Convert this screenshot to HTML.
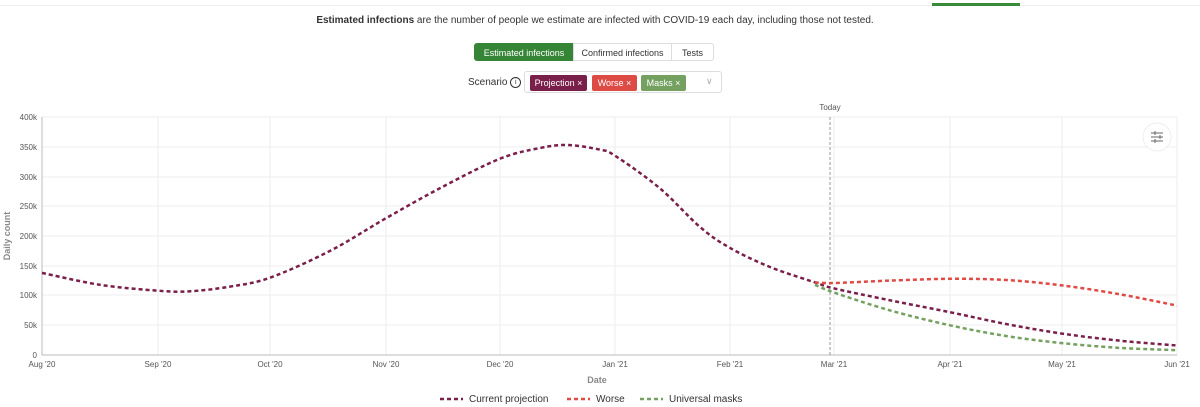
<!DOCTYPE html>
<html><head><meta charset="utf-8"><style>
body{margin:0;background:#fff;font-family:"Liberation Sans",sans-serif;width:1200px;height:407px;overflow:hidden;position:relative}
.a{position:absolute}
.btn{position:absolute;top:43px;height:18px;line-height:18px;font-size:9px;text-align:center;border:1px solid #ddd;box-sizing:border-box;color:#333}
.tag{position:absolute;top:75px;height:16px;line-height:16px;font-size:9px;color:#fff;border-radius:2px;text-align:center}
</style></head><body>
<div class="a" style="left:0;top:5px;width:1200px;height:1px;background:#eee"></div>
<div class="a" style="left:932px;top:3px;width:88px;height:3px;background:#3a8a3a"></div>
<div class="a" style="left:0;width:1190px;top:15px;text-align:center;font-size:10px;color:#333"><b>Estimated infections</b> are the number of people we estimate are infected with COVID-19 each day, including those not tested.</div>
<div class="btn" style="left:474px;width:100px;background:#368536;color:#fff;border-color:#368536;border-radius:3px 0 0 3px">Estimated infections</div>
<div class="btn" style="left:573px;width:99px">Confirmed infections</div>
<div class="btn" style="left:671px;width:43px;border-radius:0 3px 3px 0">Tests</div>
<div class="a" style="left:468px;top:77px;font-size:10px;color:#333">Scenario <span style="display:inline-block;width:9px;height:9px;border:1px solid #333;border-radius:50%;font-size:7px;line-height:9px;text-align:center;vertical-align:1px">i</span></div>
<div class="a" style="left:524px;top:71px;width:198px;height:22px;border:1px solid #ddd;border-radius:3px;box-sizing:border-box"></div>
<div class="tag" style="left:530px;width:57px;background:#7a1f4a">Projection ×</div>
<div class="tag" style="left:592px;width:45px;background:#dd4b45">Worse ×</div>
<div class="tag" style="left:641px;width:45px;background:#74a060">Masks ×</div>
<div class="a" style="left:706px;top:76px;font-size:9px;color:#aaa">∨</div>
<svg class="a" style="left:0;top:0" width="1200" height="407" font-family="Liberation Sans, sans-serif">
<g stroke="#eee" stroke-width="1">
<line x1="42" x2="1177" y1="117" y2="117"/><line x1="42" x2="1177" y1="147" y2="147"/><line x1="42" x2="1177" y1="177" y2="177"/><line x1="42" x2="1177" y1="206" y2="206"/><line x1="42" x2="1177" y1="236" y2="236"/><line x1="42" x2="1177" y1="266" y2="266"/><line x1="42" x2="1177" y1="295" y2="295"/><line x1="42" x2="1177" y1="325" y2="325"/>
<line x1="158" x2="158" y1="117" y2="355"/><line x1="270" x2="270" y1="117" y2="355"/><line x1="386" x2="386" y1="117" y2="355"/><line x1="500" x2="500" y1="117" y2="355"/><line x1="615" x2="615" y1="117" y2="355"/><line x1="730" x2="730" y1="117" y2="355"/><line x1="834" x2="834" y1="117" y2="355"/><line x1="950" x2="950" y1="117" y2="355"/><line x1="1062" x2="1062" y1="117" y2="355"/><line x1="1177" x2="1177" y1="117" y2="355"/>
</g>
<line x1="42" x2="42" y1="117" y2="355" stroke="#bbb"/><line x1="42" x2="1177" y1="355" y2="355" stroke="#bbb"/>
<g font-size="8" fill="#555" text-anchor="end">
<text x="37" y="120">400k</text><text x="37" y="150">350k</text><text x="37" y="180">300k</text><text x="37" y="209">250k</text><text x="37" y="239">200k</text><text x="37" y="269">150k</text><text x="37" y="298">100k</text><text x="37" y="328">50k</text><text x="37" y="358">0</text>
</g>
<g font-size="8" fill="#555" text-anchor="middle">
<text x="42" y="367">Aug '20</text><text x="158" y="367">Sep '20</text><text x="270" y="367">Oct '20</text><text x="386" y="367">Nov '20</text><text x="500" y="367">Dec '20</text><text x="615" y="367">Jan '21</text><text x="730" y="367">Feb '21</text><text x="834" y="367">Mar '21</text><text x="950" y="367">Apr '21</text><text x="1062" y="367">May '21</text><text x="1177" y="367">Jun '21</text>
<text x="830" y="110">Today</text>
<text x="597" y="383" font-size="9" fill="#888" font-weight="bold">Date</text>
<text transform="translate(10,236) rotate(-90)" font-size="9" fill="#888" font-weight="bold">Daily count</text>
</g>
<line x1="830" x2="830" y1="117" y2="355" stroke="#999" stroke-dasharray="3,2"/>
<circle cx="1157" cy="137" r="14" fill="#fff" stroke="#eee"/>
<g stroke="#666" stroke-width="1"><line x1="1151" x2="1163" y1="133" y2="133"/><line x1="1151" x2="1163" y1="137" y2="137"/><line x1="1151" x2="1163" y1="141" y2="141"/><line x1="1155" x2="1155" y1="131" y2="135"/><line x1="1160" x2="1160" y1="135" y2="139"/><line x1="1155" x2="1155" y1="139" y2="143"/></g>
<g fill="none" stroke-width="2.5" stroke-dasharray="4,3">
<path id="p1" stroke="#7a1f4a"/><path id="p2" stroke="#e04a45"/><path id="p3" stroke="#74a060"/>
</g>
<g stroke-width="2.5" stroke-dasharray="4,3">
<line x1="440" x2="463" y1="399" y2="399" stroke="#7a1f4a"/><line x1="567" x2="590" y1="399" y2="399" stroke="#e04a45"/><line x1="640" x2="663" y1="399" y2="399" stroke="#74a060"/>
</g>
<g font-size="10" fill="#333"><text x="469" y="402">Current projection</text><text x="596" y="402">Worse</text><text x="669" y="402">Universal masks</text></g>
</svg>
<script>
function sm(p){var d="M"+p[0][0]+","+p[0][1];for(var i=0;i<p.length-1;i++){var a=p[i-1]||p[i],b=p[i],c=p[i+1],e=p[i+2]||c;d+="C"+(b[0]+(c[0]-a[0])/6)+","+(b[1]+(c[1]-a[1])/6)+" "+(c[0]-(e[0]-b[0])/6)+","+(c[1]-(e[1]-b[1])/6)+" "+c[0]+","+c[1];}return d;}
var P=[[42,272.9],[100,284.8],[158,290.7],[190,291.3],[230,286.6],[270,277.7],[330,250.9],[386,218.2],[443,186.6],[500,158.7],[540,148],[568,145],[600,149.7],[615,155.7],[660,188.4],[700,227],[730,247.9],[770,267],[815,282.4],[834,288.4],[890,300.3],[950,312.2],[1006,324],[1062,333.6],[1120,340.7],[1177,345.5]];
var W=[[815,282.4],[834,283],[890,280.6],[950,278.8],[1006,280],[1062,285.4],[1120,294.3],[1177,305.6]];
var M=[[815,284.8],[834,292.5],[890,310.4],[950,325.3],[1006,336],[1062,343.1],[1120,347.9],[1177,350.2]];
document.getElementById("p1").setAttribute("d",sm(P));
document.getElementById("p2").setAttribute("d",sm(W));
document.getElementById("p3").setAttribute("d",sm(M));
</script>
</body></html>
